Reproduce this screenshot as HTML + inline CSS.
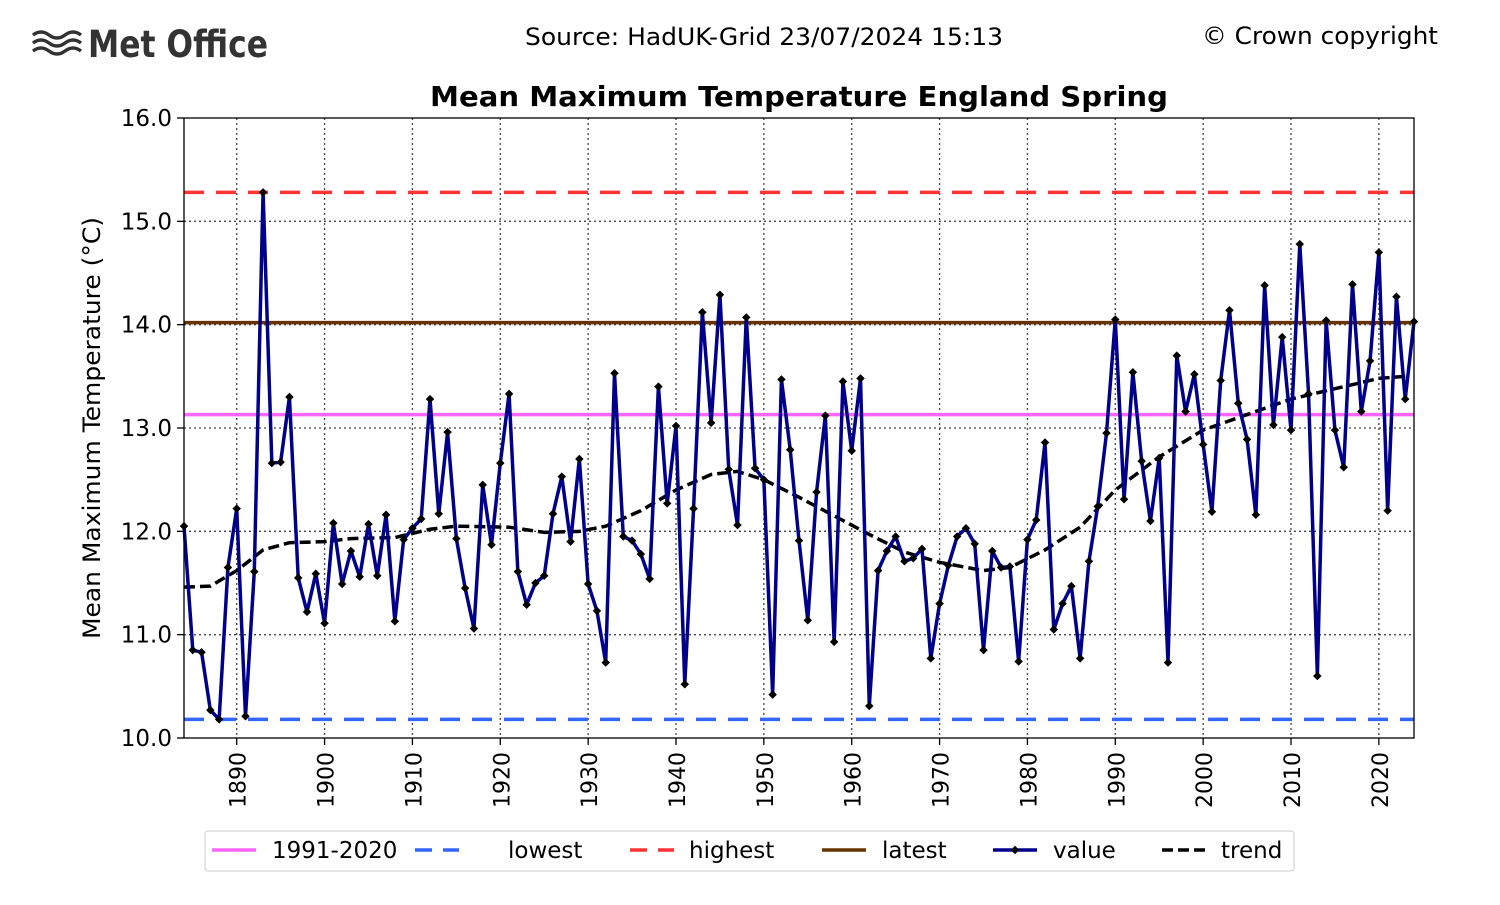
<!DOCTYPE html>
<html><head><meta charset="utf-8"><style>
body{margin:0;background:#fff;}
svg text{font-family:"DejaVu Sans","Liberation Sans",sans-serif;}
</style></head><body>
<svg id="s" width="1500" height="900" xmlns="http://www.w3.org/2000/svg">
<rect width="1500" height="900" fill="#fff"/>
<g fill="none" stroke="#333" stroke-width="3.5">
<path d="M33 35 q8 -6 16 0 t16 0 t16 0"/>
<path d="M33 43 q8 -6 16 0 t16 0 t16 0"/>
<path d="M33 51 q8 -6 16 0 t16 0 t16 0"/>
</g>
<text x="88" y="57" font-size="37" font-weight="bold" fill="#333" font-family="Liberation Sans, sans-serif" textLength="180" lengthAdjust="spacingAndGlyphs">Met Office</text>
<text x="764" y="45" font-size="24" text-anchor="middle" textLength="478" lengthAdjust="spacingAndGlyphs">Source: HadUK-Grid 23/07/2024 15:13</text>
<text x="1438" y="44" font-size="24" text-anchor="end" textLength="236" lengthAdjust="spacingAndGlyphs">© Crown copyright</text>
<text x="799" y="106" font-size="28" font-weight="bold" text-anchor="middle" textLength="738" lengthAdjust="spacingAndGlyphs">Mean Maximum Temperature England Spring</text>
<text transform="translate(100,428) rotate(-90)" font-size="24" text-anchor="middle" textLength="422" lengthAdjust="spacingAndGlyphs">Mean Maximum Temperature (°C)</text>
<g id="g"></g>
</svg>
<script>
const v=[12.05,10.85,10.83,10.27,10.18,11.65,12.22,10.21,11.61,15.28,12.66,12.67,13.30,11.55,11.22,11.59,11.11,12.08,11.49,11.81,11.56,12.07,11.57,12.16,11.13,11.92,12.03,12.12,13.28,12.17,12.96,11.93,11.45,11.06,12.45,11.87,12.66,13.33,11.61,11.29,11.50,11.57,12.17,12.53,11.90,12.70,11.49,11.23,10.73,13.53,11.95,11.91,11.78,11.54,13.40,12.27,13.02,10.52,12.22,14.12,13.05,14.29,12.60,12.06,14.07,12.61,12.50,10.42,13.47,12.79,11.91,11.14,12.38,13.12,10.93,13.45,12.78,13.48,10.31,11.62,11.81,11.95,11.71,11.74,11.83,10.77,11.30,11.67,11.95,12.03,11.88,10.85,11.81,11.65,11.66,10.74,11.92,12.11,12.86,11.05,11.30,11.47,10.77,11.71,12.24,12.95,14.05,12.31,13.54,12.68,12.10,12.71,10.73,13.70,13.16,13.52,12.84,12.19,13.46,14.14,13.24,12.89,12.16,14.38,13.03,13.88,12.98,14.78,13.33,10.60,14.04,12.98,12.62,14.39,13.16,13.65,14.70,12.20,14.27,13.28,14.03];
const tk=[[1884,11.46],[1887,11.47],[1890,11.62],[1893,11.82],[1896,11.89],[1900,11.90],[1903,11.93],[1908,11.94],[1912,12.02],[1915,12.05],[1921,12.04],[1925,11.99],[1929,12.00],[1932,12.05],[1936,12.20],[1940,12.40],[1944,12.55],[1947,12.58],[1950,12.50],[1954,12.33],[1958,12.15],[1962,11.97],[1966,11.80],[1970,11.70],[1975,11.62],[1978,11.65],[1982,11.82],[1986,12.04],[1990,12.40],[1995,12.72],[2000,12.98],[2005,13.13],[2010,13.28],[2015,13.38],[2020,13.48],[2023,13.50]];
const X=y=>184+(y-1884)*(1230/140), Y=t=>738-(t-10)*(620/6);
let h='';
for(let yr=1890;yr<=2020;yr+=10){const x=X(yr);h+=`<line x1="${x}" y1="118" x2="${x}" y2="738" stroke="#444" stroke-dasharray="2,3" stroke-width="1.3"/><line x1="${x}" y1="738" x2="${x}" y2="745" stroke="#000" stroke-width="1.3"/><text transform="translate(${x+9},${752}) rotate(-90)" font-size="22" text-anchor="end">${yr}</text>`;}
for(let t=10;t<=16;t++){const y=Y(t);if(t>10&&t<16)h+=`<line x1="184" y1="${y}" x2="1414" y2="${y}" stroke="#444" stroke-dasharray="2,3" stroke-width="1.3"/>`;h+=`<line x1="177" y1="${y}" x2="184" y2="${y}" stroke="#000" stroke-width="1.3"/><text x="172" y="${y+8}" font-size="23" text-anchor="end">${t}.0</text>`;}
h+=`<line x1="184" y1="${Y(15.28)}" x2="1414" y2="${Y(15.28)}" stroke="#f33" stroke-width="3.5" stroke-dasharray="20,12"/>`;
h+=`<line x1="184" y1="${Y(14.02)}" x2="1414" y2="${Y(14.02)}" stroke="#663300" stroke-width="3.5"/>`;
h+=`<line x1="184" y1="${Y(13.13)}" x2="1414" y2="${Y(13.13)}" stroke="#f6f" stroke-width="3.5"/>`;
h+=`<line x1="184" y1="${Y(10.18)}" x2="1414" y2="${Y(10.18)}" stroke="#36f" stroke-width="3.5" stroke-dasharray="20,12"/>`;
h+=`<polyline fill="none" stroke="#000" stroke-width="3.5" stroke-dasharray="11,5" points="${tk.map(p=>X(p[0])+','+Y(p[1])).join(' ')}"/>`;
h+=`<polyline fill="none" stroke="#00008b" stroke-width="3.5" stroke-linejoin="round" points="${v.map((t,i)=>X(1884+i)+','+Y(t)).join(' ')}"/>`;
v.forEach((t,i)=>{const x=X(1884+i),y=Y(t);h+=`<rect x="${x-3}" y="${y-3}" width="6" height="6" transform="rotate(45 ${x} ${y})" fill="#000"/>`;});
h+=`<rect x="184" y="118" width="1230" height="620" fill="none" stroke="#000" stroke-width="1.3"/>`;
h+=`<rect x="205" y="831" width="1089" height="40" rx="3" fill="#fff" stroke="#ccc"/>`;
const L=[[212,'1991-2020','#f6f',0,272],[415,'lowest','#36f',1,508],[630,'highest','#f33',1,689],[822,'latest','#663300',0,882],[993,'value','#00008b',2,1053],[1162,'trend','#000',3,1221]];
L.forEach(([x,n,c,d,tx])=>{const da=d==1?'stroke-dasharray="17,11"':d==3?'stroke-dasharray="11,5"':'';h+=`<line x1="${x}" y1="850" x2="${x+44}" y2="850" stroke="${c}" stroke-width="3.5" ${da}/>`;if(d==2)h+=`<rect x="${x+19}" y="847" width="6" height="6" transform="rotate(45 ${x+22} 850)" fill="#000"/>`;h+=`<text x="${tx}" y="858" font-size="23">${n}</text>`;});
document.getElementById('g').innerHTML=h;
</script>
</body></html>
